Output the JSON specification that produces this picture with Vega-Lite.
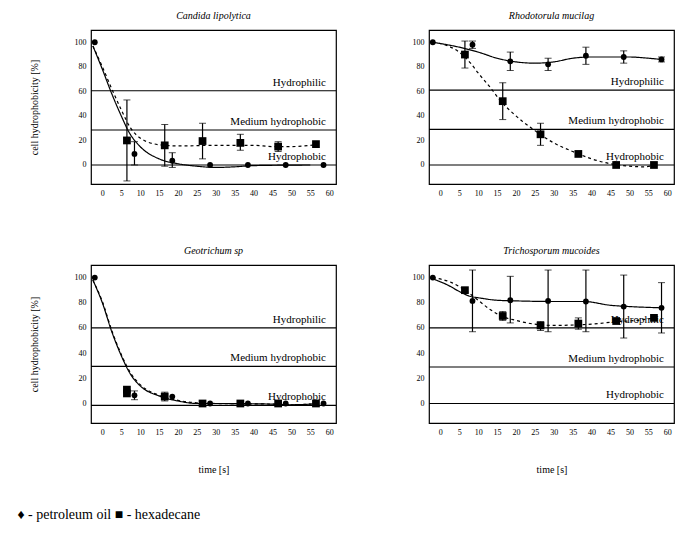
{
  "$schema": "https://vega.github.io/schema/vega-lite/v6.json",
  "background": "white",
  "padding": {"left": 17, "top": 10, "right": 5, "bottom": 5},
  "title": {"text": "♦ - petroleum oil ■ - hexadecane", "orient": "bottom", "anchor": "start", "fontSize": 14, "fontStyle": "normal", "font": "'Liberation Serif', 'Times New Roman', serif", "fontWeight": "normal", "offset": 33, "dx": -11},
  "config": {
    "view": {"stroke": "black", "strokeWidth": 1.2},
    "axis": {"labelFont": "'Liberation Serif', 'Times New Roman', serif", "labelFontSize": 8, "ticks": false, "domain": false, "grid": false, "labelPadding": 5, "titleFont": "'Liberation Serif', 'Times New Roman', serif", "titleFontSize": 10, "titleFontWeight": "normal", "labelColor": "black", "titleColor": "black"},
    "title": {"font": "'Liberation Serif', 'Times New Roman', serif", "fontStyle": "italic", "fontSize": 10, "fontWeight": "normal", "offset": 9},
    "text": {"font": "'Liberation Serif', 'Times New Roman', serif"}
  },
  "datasets": {
    "points": [
      {"p":"C","s":"petroleum","x":-2,"y":100},{"p":"C","s":"petroleum","x":8.5,"y":9},{"p":"C","s":"petroleum","x":18.5,"y":3.5},{"p":"C","s":"petroleum","x":28.5,"y":0},{"p":"C","s":"petroleum","x":38.5,"y":0},{"p":"C","s":"petroleum","x":48.5,"y":0},{"p":"C","s":"petroleum","x":58.5,"y":0},
      {"p":"C","s":"hexadecane","x":6.5,"y":20},{"p":"C","s":"hexadecane","x":16.5,"y":16},{"p":"C","s":"hexadecane","x":26.5,"y":19.5},{"p":"C","s":"hexadecane","x":36.5,"y":18},{"p":"C","s":"hexadecane","x":46.5,"y":15},{"p":"C","s":"hexadecane","x":56.5,"y":17},
      {"p":"R","s":"petroleum","x":-2,"y":100},{"p":"R","s":"petroleum","x":8.5,"y":98},{"p":"R","s":"petroleum","x":18.5,"y":84.5},{"p":"R","s":"petroleum","x":28.5,"y":82},{"p":"R","s":"petroleum","x":38.5,"y":89},{"p":"R","s":"petroleum","x":48.5,"y":88},{"p":"R","s":"petroleum","x":58.5,"y":86},
      {"p":"R","s":"hexadecane","x":6.5,"y":90},{"p":"R","s":"hexadecane","x":16.5,"y":52},{"p":"R","s":"hexadecane","x":26.5,"y":25},{"p":"R","s":"hexadecane","x":36.5,"y":9},{"p":"R","s":"hexadecane","x":46.5,"y":0},{"p":"R","s":"hexadecane","x":56.5,"y":0},
      {"p":"G","s":"petroleum","x":-2,"y":100},{"p":"G","s":"petroleum","x":8.5,"y":6.5},{"p":"G","s":"petroleum","x":18.5,"y":5.5},{"p":"G","s":"petroleum","x":28.5,"y":0},{"p":"G","s":"petroleum","x":38.5,"y":0},{"p":"G","s":"petroleum","x":48.5,"y":0},{"p":"G","s":"petroleum","x":58.5,"y":0},
      {"p":"G","s":"hexadecane","x":6.5,"y":8},{"p":"G","s":"hexadecane","x":6.5,"y":11},{"p":"G","s":"hexadecane","x":16.5,"y":5.5},{"p":"G","s":"hexadecane","x":26.5,"y":0},{"p":"G","s":"hexadecane","x":36.5,"y":0},{"p":"G","s":"hexadecane","x":46.5,"y":0},{"p":"G","s":"hexadecane","x":56.5,"y":0},
      {"p":"T","s":"petroleum","x":-2,"y":100},{"p":"T","s":"petroleum","x":8.5,"y":81.5},{"p":"T","s":"petroleum","x":18.5,"y":82},{"p":"T","s":"petroleum","x":28.5,"y":81.5},{"p":"T","s":"petroleum","x":38.5,"y":81},{"p":"T","s":"petroleum","x":48.5,"y":77},{"p":"T","s":"petroleum","x":58.5,"y":76},
      {"p":"T","s":"hexadecane","x":6.5,"y":90},{"p":"T","s":"hexadecane","x":16.5,"y":69.5},{"p":"T","s":"hexadecane","x":26.5,"y":62},{"p":"T","s":"hexadecane","x":36.5,"y":63.5},{"p":"T","s":"hexadecane","x":46.5,"y":65.5},{"p":"T","s":"hexadecane","x":56.5,"y":68}
    ],
    "errs": [
      {"p":"C","s":"petroleum","x":8.5,"lo":0,"hi":19},{"p":"C","s":"petroleum","x":18.5,"lo":-2,"hi":10},
      {"p":"C","s":"hexadecane","x":6.5,"lo":-13,"hi":53},{"p":"C","s":"hexadecane","x":16.5,"lo":-1,"hi":33},{"p":"C","s":"hexadecane","x":26.5,"lo":5,"hi":34},{"p":"C","s":"hexadecane","x":36.5,"lo":12,"hi":25},{"p":"C","s":"hexadecane","x":46.5,"lo":11,"hi":19},
      {"p":"R","s":"petroleum","x":8.5,"lo":95,"hi":101},{"p":"R","s":"petroleum","x":18.5,"lo":77,"hi":92},{"p":"R","s":"petroleum","x":28.5,"lo":77,"hi":87},{"p":"R","s":"petroleum","x":38.5,"lo":82,"hi":96},{"p":"R","s":"petroleum","x":48.5,"lo":83,"hi":93},{"p":"R","s":"petroleum","x":58.5,"lo":84,"hi":88},
      {"p":"R","s":"hexadecane","x":6.5,"lo":79,"hi":101},{"p":"R","s":"hexadecane","x":16.5,"lo":37,"hi":67},{"p":"R","s":"hexadecane","x":26.5,"lo":16,"hi":34},
      {"p":"G","s":"petroleum","x":8.5,"lo":3,"hi":10},{"p":"G","s":"hexadecane","x":16.5,"lo":2,"hi":9},
      {"p":"T","s":"petroleum","x":8.5,"lo":57,"hi":106},{"p":"T","s":"petroleum","x":18.5,"lo":64,"hi":101},{"p":"T","s":"petroleum","x":28.5,"lo":57,"hi":106},{"p":"T","s":"petroleum","x":38.5,"lo":57,"hi":106},{"p":"T","s":"petroleum","x":48.5,"lo":52,"hi":102},{"p":"T","s":"petroleum","x":58.5,"lo":56,"hi":96},
      {"p":"T","s":"hexadecane","x":16.5,"lo":66,"hi":73},{"p":"T","s":"hexadecane","x":26.5,"lo":58,"hi":65},{"p":"T","s":"hexadecane","x":36.5,"lo":59,"hi":68}
    ],
    "curves": [
      {"p":"C","s":"petroleum","x":-2.5,"y":97},{"p":"C","s":"petroleum","x":0,"y":78},{"p":"C","s":"petroleum","x":2.5,"y":58},{"p":"C","s":"petroleum","x":5,"y":40},{"p":"C","s":"petroleum","x":7,"y":27},{"p":"C","s":"petroleum","x":10,"y":15},{"p":"C","s":"petroleum","x":15,"y":5},{"p":"C","s":"petroleum","x":20,"y":1},{"p":"C","s":"petroleum","x":25,"y":-1},{"p":"C","s":"petroleum","x":30,"y":-2},{"p":"C","s":"petroleum","x":35,"y":-1.5},{"p":"C","s":"petroleum","x":40,"y":-0.5},{"p":"C","s":"petroleum","x":55,"y":0},
      {"p":"C","s":"hexadecane","x":-2.5,"y":97},{"p":"C","s":"hexadecane","x":0,"y":80},{"p":"C","s":"hexadecane","x":2.5,"y":62},{"p":"C","s":"hexadecane","x":5,"y":45},{"p":"C","s":"hexadecane","x":7.5,"y":30},{"p":"C","s":"hexadecane","x":10,"y":22},{"p":"C","s":"hexadecane","x":15,"y":16.5},{"p":"C","s":"hexadecane","x":20,"y":15.5},{"p":"C","s":"hexadecane","x":30,"y":16},{"p":"C","s":"hexadecane","x":40,"y":16},{"p":"C","s":"hexadecane","x":45,"y":15},{"p":"C","s":"hexadecane","x":50,"y":15},{"p":"C","s":"hexadecane","x":56.5,"y":16.5},
      {"p":"R","s":"petroleum","x":-2,"y":100},{"p":"R","s":"petroleum","x":5,"y":96},{"p":"R","s":"petroleum","x":10,"y":92},{"p":"R","s":"petroleum","x":15,"y":87},{"p":"R","s":"petroleum","x":20,"y":84},{"p":"R","s":"petroleum","x":25,"y":83},{"p":"R","s":"petroleum","x":30,"y":84},{"p":"R","s":"petroleum","x":35,"y":87},{"p":"R","s":"petroleum","x":40,"y":88},{"p":"R","s":"petroleum","x":50,"y":88},{"p":"R","s":"petroleum","x":55,"y":87},{"p":"R","s":"petroleum","x":58.5,"y":86},
      {"p":"R","s":"hexadecane","x":-2,"y":100},{"p":"R","s":"hexadecane","x":2,"y":97},{"p":"R","s":"hexadecane","x":5,"y":92},{"p":"R","s":"hexadecane","x":8,"y":83},{"p":"R","s":"hexadecane","x":10,"y":75},{"p":"R","s":"hexadecane","x":13,"y":64},{"p":"R","s":"hexadecane","x":16,"y":52},{"p":"R","s":"hexadecane","x":20,"y":40},{"p":"R","s":"hexadecane","x":25,"y":28},{"p":"R","s":"hexadecane","x":30,"y":18},{"p":"R","s":"hexadecane","x":35,"y":11},{"p":"R","s":"hexadecane","x":40,"y":5},{"p":"R","s":"hexadecane","x":45,"y":1},{"p":"R","s":"hexadecane","x":50,"y":-1},{"p":"R","s":"hexadecane","x":54,"y":-1.5},{"p":"R","s":"hexadecane","x":56.5,"y":0},
      {"p":"G","s":"petroleum","x":-2.5,"y":98},{"p":"G","s":"petroleum","x":0,"y":80},{"p":"G","s":"petroleum","x":2.5,"y":57},{"p":"G","s":"petroleum","x":5,"y":38},{"p":"G","s":"petroleum","x":7.5,"y":23},{"p":"G","s":"petroleum","x":10,"y":14},{"p":"G","s":"petroleum","x":15,"y":6},{"p":"G","s":"petroleum","x":20,"y":2},{"p":"G","s":"petroleum","x":25,"y":0},{"p":"G","s":"petroleum","x":30,"y":0},{"p":"G","s":"petroleum","x":45,"y":-0.5},{"p":"G","s":"petroleum","x":50,"y":-1},{"p":"G","s":"petroleum","x":55,"y":-0.5},{"p":"G","s":"petroleum","x":56.5,"y":0},
      {"p":"G","s":"hexadecane","x":-2.5,"y":98},{"p":"G","s":"hexadecane","x":0,"y":81},{"p":"G","s":"hexadecane","x":2.5,"y":58},{"p":"G","s":"hexadecane","x":5,"y":39},{"p":"G","s":"hexadecane","x":7.5,"y":24},{"p":"G","s":"hexadecane","x":10,"y":15},{"p":"G","s":"hexadecane","x":15,"y":6.5},{"p":"G","s":"hexadecane","x":20,"y":2.5},{"p":"G","s":"hexadecane","x":25,"y":0.5},{"p":"G","s":"hexadecane","x":30,"y":0},{"p":"G","s":"hexadecane","x":45,"y":-0.5},{"p":"G","s":"hexadecane","x":50,"y":-1},{"p":"G","s":"hexadecane","x":55,"y":-0.5},{"p":"G","s":"hexadecane","x":56.5,"y":0},
      {"p":"T","s":"petroleum","x":-2,"y":99},{"p":"T","s":"petroleum","x":2,"y":94},{"p":"T","s":"petroleum","x":5,"y":89},{"p":"T","s":"petroleum","x":8,"y":85},{"p":"T","s":"petroleum","x":10,"y":84},{"p":"T","s":"petroleum","x":15,"y":82},{"p":"T","s":"petroleum","x":20,"y":81.5},{"p":"T","s":"petroleum","x":30,"y":81},{"p":"T","s":"petroleum","x":38,"y":81},{"p":"T","s":"petroleum","x":45,"y":78},{"p":"T","s":"petroleum","x":50,"y":77},{"p":"T","s":"petroleum","x":58.5,"y":76},
      {"p":"T","s":"hexadecane","x":-2,"y":100},{"p":"T","s":"hexadecane","x":3,"y":96},{"p":"T","s":"hexadecane","x":6.5,"y":90},{"p":"T","s":"hexadecane","x":10,"y":82},{"p":"T","s":"hexadecane","x":13,"y":75},{"p":"T","s":"hexadecane","x":16.5,"y":69},{"p":"T","s":"hexadecane","x":20,"y":66},{"p":"T","s":"hexadecane","x":25,"y":63},{"p":"T","s":"hexadecane","x":30,"y":62},{"p":"T","s":"hexadecane","x":36.5,"y":62.5},{"p":"T","s":"hexadecane","x":40,"y":63},{"p":"T","s":"hexadecane","x":46.5,"y":65},{"p":"T","s":"hexadecane","x":52,"y":66},{"p":"T","s":"hexadecane","x":56.5,"y":68}
    ],
    "bands": [
      {"p":"C","y":60.5,"label":"Hydrophilic"},{"p":"C","y":28.5,"label":"Medium hydrophobic"},{"p":"C","y":0,"label":"Hydrophobic"},
      {"p":"R","y":61,"label":"Hydrophilic"},{"p":"R","y":29,"label":"Medium hydrophobic"},{"p":"R","y":0,"label":"Hydrophobic"},
      {"p":"G","y":60,"label":"Hydrophilic"},{"p":"G","y":29.5,"label":"Medium hydrophobic"},{"p":"G","y":-1.5,"label":"Hydrophobic"},
      {"p":"T","y":60,"label":"Hydrophilic"},{"p":"T","y":29,"label":"Medium hydrophobic"},{"p":"T","y":0,"label":"Hydrophobic"}
    ]
  },
  "columns": 2,
  "spacing": {"row": 47, "column": 73},
  "concat": [
    {
      "width": 245, "height": 154,
      "title": "Candida lipolytica",
      "encoding": {
        "x": {"field": "x", "type": "quantitative", "scale": {"domain": [-3, 61.8], "nice": false}, "axis": {"values": [0,5,10,15,20,25,30,35,40,45,50,55,60], "title": null}},
        "y": {"field": "y", "type": "quantitative", "scale": {"domain": [-15.5, 110], "nice": false}, "axis": {"values": [0,20,40,60,80,100], "title": "cell hydrophobicity [%]", "titlePadding": 35}}
      },
      "layer": [
        {"data": {"name": "bands"}, "transform": [{"filter": "datum.p == 'C'"}], "mark": {"type": "rule", "color": "black", "strokeWidth": 1.2}, "encoding": {"x": null}},
        {"data": {"name": "bands"}, "transform": [{"filter": "datum.p == 'C'"}], "mark": {"type": "text", "fontSize": 11, "align": "right", "baseline": "bottom", "dy": -3, "x": 235}, "encoding": {"x": null, "text": {"field": "label"}}},
        {"data": {"name": "curves"}, "transform": [{"filter": "datum.p == 'C'"}], "mark": {"type": "line", "color": "black", "strokeWidth": 1.2, "interpolate": "monotone"}, "encoding": {"detail": {"field": "s"}, "strokeDash": {"field": "s", "type": "nominal", "scale": {"domain": ["petroleum", "hexadecane"], "range": [[1, 0], [3, 3]]}, "legend": null}}},
        {"data": {"name": "errs"}, "transform": [{"filter": "datum.p == 'C'"}], "mark": {"type": "errorbar", "ticks": {"size": 7, "color": "black"}, "rule": {"color": "black", "strokeWidth": 1.2}}, "encoding": {"y": {"field": "lo", "type": "quantitative"}, "y2": {"field": "hi"}}},
        {"data": {"name": "points"}, "transform": [{"filter": "datum.p == 'C'"}], "mark": {"type": "point", "filled": true, "color": "black", "opacity": 1}, "encoding": {"shape": {"field": "s", "type": "nominal", "scale": {"domain": ["petroleum", "hexadecane"], "range": ["circle", "square"]}, "legend": null}, "size": {"field": "s", "type": "nominal", "scale": {"domain": ["petroleum", "hexadecane"], "range": [34, 60]}, "legend": null}}}
      ]
    },
    {
      "width": 245, "height": 154,
      "title": "Rhodotorula mucilag",
      "encoding": {
        "x": {"field": "x", "type": "quantitative", "scale": {"domain": [-3, 61.8], "nice": false}, "axis": {"values": [0,5,10,15,20,25,30,35,40,45,50,55,60], "title": null}},
        "y": {"field": "y", "type": "quantitative", "scale": {"domain": [-15.5, 110], "nice": false}, "axis": {"values": [0,20,40,60,80,100], "title": null}}
      },
      "layer": [
        {"data": {"name": "bands"}, "transform": [{"filter": "datum.p == 'R'"}], "mark": {"type": "rule", "color": "black", "strokeWidth": 1.2}, "encoding": {"x": null}},
        {"data": {"name": "bands"}, "transform": [{"filter": "datum.p == 'R'"}], "mark": {"type": "text", "fontSize": 11, "align": "right", "baseline": "bottom", "dy": -3, "x": 235}, "encoding": {"x": null, "text": {"field": "label"}}},
        {"data": {"name": "curves"}, "transform": [{"filter": "datum.p == 'R'"}], "mark": {"type": "line", "color": "black", "strokeWidth": 1.2, "interpolate": "monotone"}, "encoding": {"detail": {"field": "s"}, "strokeDash": {"field": "s", "type": "nominal", "scale": {"domain": ["petroleum", "hexadecane"], "range": [[1, 0], [3, 3]]}, "legend": null}}},
        {"data": {"name": "errs"}, "transform": [{"filter": "datum.p == 'R'"}], "mark": {"type": "errorbar", "ticks": {"size": 7, "color": "black"}, "rule": {"color": "black", "strokeWidth": 1.2}}, "encoding": {"y": {"field": "lo", "type": "quantitative"}, "y2": {"field": "hi"}}},
        {"data": {"name": "points"}, "transform": [{"filter": "datum.p == 'R'"}], "mark": {"type": "point", "filled": true, "color": "black", "opacity": 1}, "encoding": {"shape": {"field": "s", "type": "nominal", "scale": {"domain": ["petroleum", "hexadecane"], "range": ["circle", "square"]}, "legend": null}, "size": {"field": "s", "type": "nominal", "scale": {"domain": ["petroleum", "hexadecane"], "range": [34, 60]}, "legend": null}}}
      ]
    },
    {
      "width": 245, "height": 158,
      "title": "Geotrichum sp",
      "encoding": {
        "x": {"field": "x", "type": "quantitative", "scale": {"domain": [-3, 61.8], "nice": false}, "axis": {"values": [0,5,10,15,20,25,30,35,40,45,50,55,60], "title": "time [s]", "titlePadding": 28}},
        "y": {"field": "y", "type": "quantitative", "scale": {"domain": [-15.5, 110], "nice": false}, "axis": {"values": [0,20,40,60,80,100], "title": "cell hydrophobicity [%]", "titlePadding": 35}}
      },
      "layer": [
        {"data": {"name": "bands"}, "transform": [{"filter": "datum.p == 'G'"}], "mark": {"type": "rule", "color": "black", "strokeWidth": 1.2}, "encoding": {"x": null}},
        {"data": {"name": "bands"}, "transform": [{"filter": "datum.p == 'G'"}], "mark": {"type": "text", "fontSize": 11, "align": "right", "baseline": "bottom", "dy": -3, "x": 235}, "encoding": {"x": null, "text": {"field": "label"}}},
        {"data": {"name": "curves"}, "transform": [{"filter": "datum.p == 'G'"}], "mark": {"type": "line", "color": "black", "strokeWidth": 1.2, "interpolate": "monotone"}, "encoding": {"detail": {"field": "s"}, "strokeDash": {"field": "s", "type": "nominal", "scale": {"domain": ["petroleum", "hexadecane"], "range": [[1, 0], [3, 3]]}, "legend": null}}},
        {"data": {"name": "errs"}, "transform": [{"filter": "datum.p == 'G'"}], "mark": {"type": "errorbar", "ticks": {"size": 7, "color": "black"}, "rule": {"color": "black", "strokeWidth": 1.2}}, "encoding": {"y": {"field": "lo", "type": "quantitative"}, "y2": {"field": "hi"}}},
        {"data": {"name": "points"}, "transform": [{"filter": "datum.p == 'G'"}], "mark": {"type": "point", "filled": true, "color": "black", "opacity": 1}, "encoding": {"shape": {"field": "s", "type": "nominal", "scale": {"domain": ["petroleum", "hexadecane"], "range": ["circle", "square"]}, "legend": null}, "size": {"field": "s", "type": "nominal", "scale": {"domain": ["petroleum", "hexadecane"], "range": [34, 60]}, "legend": null}}}
      ]
    },
    {
      "width": 245, "height": 158,
      "title": "Trichosporum mucoides",
      "encoding": {
        "x": {"field": "x", "type": "quantitative", "scale": {"domain": [-3, 61.8], "nice": false}, "axis": {"values": [0,5,10,15,20,25,30,35,40,45,50,55,60], "title": "time [s]", "titlePadding": 28}},
        "y": {"field": "y", "type": "quantitative", "scale": {"domain": [-15.5, 110], "nice": false}, "axis": {"values": [0,20,40,60,80,100], "title": null}}
      },
      "layer": [
        {"data": {"name": "bands"}, "transform": [{"filter": "datum.p == 'T'"}], "mark": {"type": "rule", "color": "black", "strokeWidth": 1.2}, "encoding": {"x": null}},
        {"data": {"name": "bands"}, "transform": [{"filter": "datum.p == 'T'"}], "mark": {"type": "text", "fontSize": 11, "align": "right", "baseline": "bottom", "dy": -3, "x": 235}, "encoding": {"x": null, "text": {"field": "label"}}},
        {"data": {"name": "curves"}, "transform": [{"filter": "datum.p == 'T'"}], "mark": {"type": "line", "color": "black", "strokeWidth": 1.2, "interpolate": "monotone"}, "encoding": {"detail": {"field": "s"}, "strokeDash": {"field": "s", "type": "nominal", "scale": {"domain": ["petroleum", "hexadecane"], "range": [[1, 0], [3, 3]]}, "legend": null}}},
        {"data": {"name": "errs"}, "transform": [{"filter": "datum.p == 'T'"}], "mark": {"type": "errorbar", "ticks": {"size": 7, "color": "black"}, "rule": {"color": "black", "strokeWidth": 1.2}}, "encoding": {"y": {"field": "lo", "type": "quantitative"}, "y2": {"field": "hi"}}},
        {"data": {"name": "points"}, "transform": [{"filter": "datum.p == 'T'"}], "mark": {"type": "point", "filled": true, "color": "black", "opacity": 1}, "encoding": {"shape": {"field": "s", "type": "nominal", "scale": {"domain": ["petroleum", "hexadecane"], "range": ["circle", "square"]}, "legend": null}, "size": {"field": "s", "type": "nominal", "scale": {"domain": ["petroleum", "hexadecane"], "range": [34, 60]}, "legend": null}}}
      ]
    }
  ]
}
